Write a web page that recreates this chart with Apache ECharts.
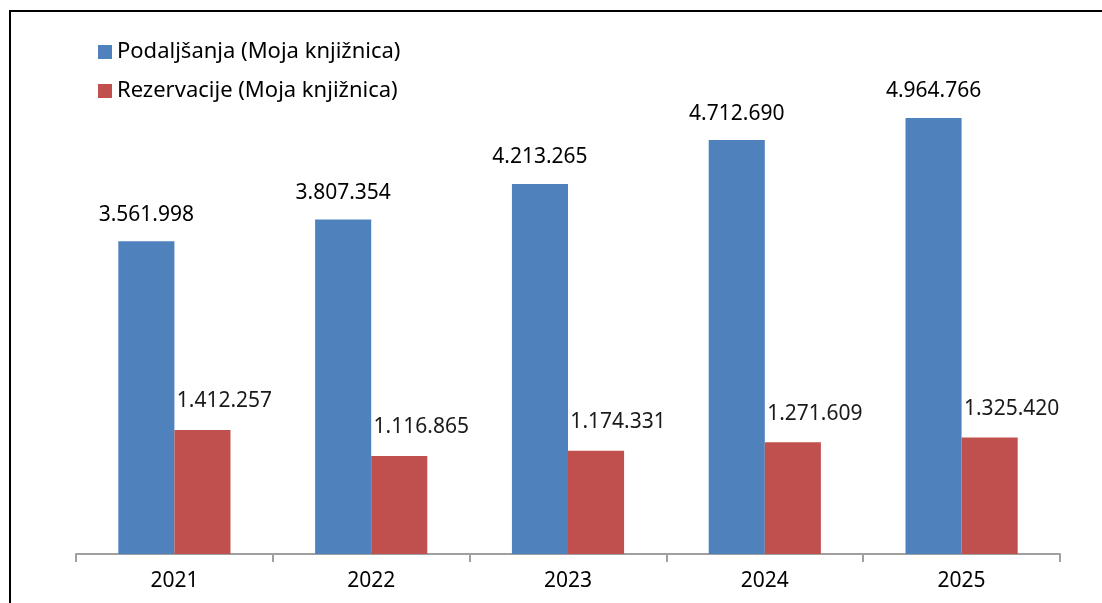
<html>
    <head>
        <meta charset="utf-8">
        <script src="https://cdn.jsdelivr.net/npm/echarts@6/dist/echarts.min.js"></script>
        <style>
            html, body { margin: 0; padding: 0; background: #fff; }
            #main { width: 1102px; height: 603px; }
        </style>
    </head>
    <body>
        <div id="main"></div>

        <script>

            var years = ['2021', '2022', '2023', '2024', '2025'];
            var podaljsanja = [3561998, 3807354, 4213265, 4712690, 4964766];
            var rezervacije = [1412257, 1116865, 1174331, 1271609, 1325420];
            var seriesNames = ['Podaljšanja (Moja knjižnica)', 'Rezervacije (Moja knjižnica)'];

            var fontFamily = '"Noto Sans", sans-serif';

            // 3.561.998 style thousands separator
            function fmt(v) {
                return String(v).replace(/\B(?=(\d{3})+(?!\d))/g, '.');
            }

            var chart = echarts.init(document.getElementById('main'));

            chart.setOption({
                animation: false,
                color: ['#4F81BD', '#C0504D'],
                textStyle: { fontFamily: fontFamily },
                graphic: [
                    {
                        type: 'rect',
                        shape: { x: 10, y: 11, width: 1200, height: 700 },
                        style: { fill: null, stroke: '#000', lineWidth: 2 },
                        silent: true
                    }
                ],
                legend: {
                    orient: 'vertical',
                    left: 93,
                    top: 36,
                    itemWidth: 14,
                    itemHeight: 14,
                    itemGap: 17,
                    icon: 'rect',
                    textStyle: { fontSize: 22, color: '#000', fontFamily: fontFamily },
                    data: seriesNames
                },
                grid: {
                    left: 76,
                    right: 42,
                    top: 27,
                    bottom: 49
                },
                xAxis: {
                    type: 'category',
                    data: years,
                    axisLine: { lineStyle: { color: '#A0A0A0', width: 2 } },
                    axisTick: { show: true, length: 8, lineStyle: { color: '#A0A0A0', width: 2 } },
                    axisLabel: { fontSize: 21, color: '#000', margin: 17, fontFamily: fontFamily }
                },
                yAxis: {
                    type: 'value',
                    min: 0,
                    max: 6000000,
                    show: false,
                    splitLine: { show: false }
                },
                series: [
                    {
                        name: seriesNames[0],
                        type: 'bar',
                        data: podaljsanja,
                        barGap: '0%',
                        barCategoryGap: '43%',
                        label: {
                            show: true,
                            position: 'top',
                            distance: 16,
                            fontSize: 21,
                            color: '#000',
                            fontFamily: fontFamily,
                            formatter: function (p) { return fmt(p.value); }
                        }
                    },
                    {
                        name: seriesNames[1],
                        type: 'bar',
                        data: rezervacije,
                        barGap: '0%',
                        barCategoryGap: '43%',
                        label: {
                            show: true,
                            position: 'top',
                            distance: 18,
                            offset: [22, 0],
                            fontSize: 21,
                            color: '#1a1a1a',
                            fontFamily: fontFamily,
                            formatter: function (p) { return fmt(p.value); }
                        }
                    }
                ]
            });

        </script>
    </body>
</html>
